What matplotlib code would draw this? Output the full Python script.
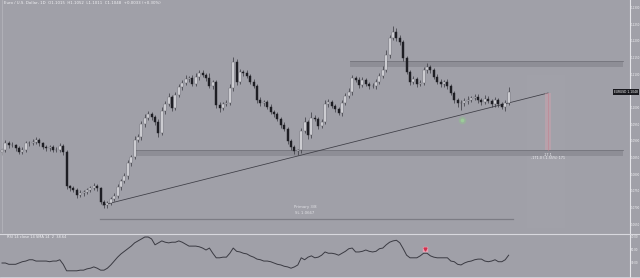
import matplotlib
matplotlib.use("Agg")
import matplotlib.pyplot as plt
import numpy as np
from matplotlib.lines import Line2D

# price in pips (1.xxxx * 10000), one entry per daily candle
closes = [10874, 10895, 10889, 10889, 10880, 10868, 10874, 10895, 10895, 10898,
          10904, 10895, 10883, 10880, 10883, 10874, 10874, 10886, 10868, 10766,
          10760, 10754, 10739, 10745, 10748, 10754, 10760, 10766, 10760, 10718,
          10709, 10715, 10727, 10736, 10763, 10781, 10796, 10835, 10853, 10904,
          10913, 10952, 10970, 10982, 10973, 10958, 10925, 10991, 11012, 11033,
          11000, 11039, 11063, 11075, 11087, 11090, 11072, 11093, 11105, 11099,
          11090, 11066, 11078, 11009, 11000, 11012, 11015, 11060, 11138, 11078,
          11108, 11105, 11096, 11078, 11066, 11024, 11015, 11018, 11003, 10988,
          10982, 10967, 10949, 10937, 10901, 10883, 10871, 10874, 10931, 10958,
          10919, 10970, 10967, 10946, 10958, 11012, 11018, 11006, 10997, 10985,
          11015, 11036, 11048, 11090, 11084, 11069, 11084, 11072, 11066, 11066,
          11078, 11096, 11114, 11159, 11210, 11228, 11210, 11198, 11150, 11108,
          11078, 11087, 11072, 11075, 11114, 11123, 11114, 11093, 11078, 11072,
          11078, 11066, 11045, 11024, 11015, 11015, 11021, 11024, 11030, 11033,
          11024, 11018, 11027, 11021, 11012, 11024, 11012, 11003, 11015, 11048]
first_open = 10868

upper_wick = [6, 9, 5, 8, 4, 6, 9, 7, 5, 8, 10, 6, 4, 7, 5, 6, 8, 9, 5, 6,
              4, 6, 5, 8, 7, 6, 5, 9, 6, 4, 5, 7, 6, 9, 8, 6, 9, 10, 7, 12,
              9, 8, 12, 10, 7, 6, 9, 11, 8, 12, 6, 10, 9, 8, 11, 7, 9, 12, 8, 10,
              6, 14, 5, 6, 8, 7, 9, 12, 15, 8, 10, 7, 9, 6, 8, 5, 9, 7, 6, 8,
              5, 7, 6, 8, 5, 7, 6, 4, 9, 15, 6, 18, 10, 7, 9, 12, 8, 6, 5, 7,
              9, 8, 12, 10, 6, 8, 9, 7, 6, 8, 10, 9, 12, 15, 10, 18, 12, 8, 6, 5,
              7, 9, 6, 8, 10, 12, 7, 6, 8, 9, 6, 10, 7, 6, 5, 8, 9, 12, 7, 10,
              9, 6, 12, 8, 7, 9, 6, 5, 8, 14]
lower_wick = [8, 5, 9, 6, 10, 7, 5, 6, 8, 5, 7, 9, 6, 8, 10, 7, 5, 6, 9, 8,
              10, 7, 9, 6, 8, 5, 7, 6, 9, 6, 9, 8, 6, 5, 7, 9, 6, 8, 10, 6,
              7, 9, 8, 6, 10, 9, 12, 6, 8, 5, 9, 7, 6, 8, 5, 9, 6, 7, 8, 6,
              9, 5, 10, 8, 12, 7, 6, 5, 8, 9, 6, 8, 5, 7, 6, 9, 8, 10, 7, 6,
              8, 6, 9, 7, 10, 8, 9, 12, 9, 6, 12, 8, 7, 9, 6, 5, 8, 7, 9, 6,
              8, 5, 6, 9, 7, 8, 6, 5, 9, 7, 8, 6, 5, 6, 8, 7, 9, 10, 8, 6,
              9, 7, 8, 6, 5, 9, 8, 7, 6, 9, 8, 10, 7, 9, 12, 21, 9, 8, 7, 6,
              8, 9, 7, 6, 10, 8, 9, 7, 12, 6]

rsi = [30, 30, 28, 28, 28, 30, 32, 33, 35, 35, 33, 33, 33, 33, 32, 33, 33, 35, 28, 18,
       18, 18, 18, 19, 19, 21, 22, 24, 22, 19, 19, 22, 27, 33, 39, 44, 48, 52, 56, 61,
       64, 67, 70, 70, 67, 58, 61, 64, 62, 61, 62, 62, 64, 62, 59, 56, 56, 56, 55, 53,
       50, 53, 45, 38, 38, 39, 39, 45, 53, 48, 47, 45, 44, 41, 39, 36, 35, 33, 33, 32,
       30, 28, 27, 25, 24, 22, 24, 27, 38, 35, 39, 41, 38, 39, 42, 47, 45, 45, 44, 42,
       45, 48, 52, 53, 47, 47, 48, 50, 48, 47, 48, 52, 53, 58, 62, 64, 65, 61, 52, 42,
       38, 38, 38, 41, 45, 45, 41, 39, 38, 38, 38, 38, 33, 32, 28, 27, 30, 32, 33, 35,
       36, 36, 33, 32, 33, 35, 32, 32, 35, 42]

# 1.1050 sits under the last-price tag, so it is not listed
price_ticks = [1.1300, 1.1250, 1.1200, 1.1150, 1.1100, 1.1000, 1.0950,
               1.0900, 1.0850, 1.0800, 1.0750, 1.0700, 1.0650]
rsi_ticks = [70, 50, 30]

resistance_zone = (1.1123, 1.1141)
support_zone = (1.0856, 1.0874)
trend_start = (29.7, 1.0709)
trend_end = (160.6, 1.1045)
target_low = 1.0874
sl_level = 1.0667

BG = "#a0a0a8"
BULL = "#ebebef"
BEAR = "#1e1e24"
WICK = "#38383f"
TXT = "#f2f2f5"

W, H = 640, 278

c = np.array(closes) / 10000
o = np.concatenate([[first_open / 10000], c[:-1]])
hi = np.maximum(o, c) + np.array(upper_wick) / 10000
lo = np.minimum(o, c) - np.array(lower_wick) / 10000
idx = np.arange(len(c))

fig = plt.figure(figsize=(W / 100, H / 100), dpi=100)
fig.patch.set_facecolor(BG)

ax = fig.add_axes([0, 45 / H, 629 / W, 233 / H])
ax.set_facecolor(BG)
ax.set_xlim(-0.59, 184.4)
ax.set_ylim(1.0625, 1.1324)
ax.axis("off")

# very faint highlight where the projection sits
ax.fill_between([154.5, 165.5], 1.0640, 1.1100, color="white", alpha=0.02, lw=0, zorder=0)

# zones
for lo_z, hi_z, x0 in [(resistance_zone[0], resistance_zone[1], 102.4),
                       (support_zone[0], support_zone[1], 39.1)]:
    ax.fill_between([x0, 182.6], lo_z, hi_z, color="#82828a", alpha=0.6, lw=0, zorder=1)
    ax.plot([x0, 182.6], [hi_z, hi_z], color="#74747c", lw=0.6, zorder=1)

# stop line + labels
ax.plot([28.8, 150.3], [sl_level, sl_level], color="#7c7c84", lw=0.9, zorder=1)
ax.text(89.1, 1.0703, "Primary 3/8", fontsize=2.8, color=TXT, ha="center", va="center", alpha=0.8)
ax.text(89.1, 1.0685, "SL 1.0667", fontsize=2.8, color=TXT, ha="center", va="center", alpha=0.8)

# trendline
ax.plot([trend_start[0], trend_end[0]], [trend_start[1], trend_end[1]],
        color="#3c3c44", lw=0.55, zorder=2)

# projected drop
ax.fill_between([159.7, 161.5], target_low, trend_end[1], color="#d4a2ae", alpha=0.45, lw=0, zorder=2)
ax.plot([160.6, 160.6], [target_low, trend_end[1]], color="#c0808e", lw=0.5, alpha=0.8, zorder=2)
ax.text(160.6, 1.0860, "-17.1", fontsize=2.4, color=TXT, ha="center", va="center")
ax.text(160.6, 1.0851, "-171.0 (-1.55%) 171", fontsize=2.4, color=TXT, ha="center", va="center")

# candles
bull = c >= o
ax.vlines(idx, lo, hi, color=WICK, lw=0.5, zorder=3)
body = np.maximum(np.abs(c - o), 0.00015)
ax.bar(idx[bull], body[bull], bottom=o[bull], width=0.6, color=BULL,
       edgecolor="#5a5a61", linewidth=0.3, zorder=4)
ax.bar(idx[~bull], body[~bull], bottom=c[~bull], width=0.6, color=BEAR,
       edgecolor=BEAR, linewidth=0.3, zorder=4)

# touch marker
ax.scatter([135.3], [1.0964], s=30, color="#86d880", alpha=0.3, lw=0, zorder=5)
ax.scatter([135.3], [1.0964], s=7, color="#9fe898", alpha=0.5, lw=0, zorder=5)

# RSI pane
rx = fig.add_axes([0, 2 / H, 629 / W, 41 / H])
rx.set_facecolor(BG)
rx.set_xlim(-0.59, 184.4)
rx.set_ylim(10.0, 73.1)
rx.axis("off")
rx.plot(idx, rsi, color="#3a3a42", lw=0.7)
rx.scatter([124.4], [52], marker="s", s=10, color="#e6a2b4", zorder=5)
rx.scatter([124.4], [52], marker="v", s=4, color="#d0304c", zorder=6)
rx.text(1.5, 70, "RSI 14 close 14 SMA 14  2  38.64", fontsize=2.6, color=TXT, va="center")

# separators
fig.add_artist(Line2D([629.5 / W, 629.5 / W], [0, 1], color="#e6e6ea", lw=0.8))
fig.add_artist(Line2D([0, 1], [1 - 234 / H, 1 - 234 / H], color="#d8d8de", lw=0.8))
fig.add_artist(Line2D([0, 1], [1 - 276.5 / H, 1 - 276.5 / H], color="#d8d8de", lw=0.6))
fig.add_artist(Line2D([1.5 / W, 1.5 / W], [1 - 232 / H, 1], color="#b8b8be", lw=0.5))

# price scale (narrow strip on the right)
for p in price_ticks:
    ypx = (1.1324 - p) * 10000 / 3
    fig.text(631 / W, 1 - ypx / H, f"{p:.4f}", fontsize=2.0, color=TXT, va="center")
for r in rsi_ticks:
    ypx = 235 + (73.1 - r) / 63.1 * 41
    fig.text(631 / W, 1 - ypx / H, f"{r:.2f}", fontsize=2.0, color=TXT, va="center")

# last price tag
last_px = (1.1324 - c[-1]) * 10000 / 3
fig.text(614 / W, 1 - last_px / H, f"EURUSD {c[-1]:.4f}", fontsize=2.2, color="white", va="center",
         bbox=dict(boxstyle="square,pad=0.3", fc="#1a1a1f", ec="none"))

# header
fig.text(4 / W, 1 - 3 / H, "Euro / U.S. Dollar, 1D  O1.1015  H1.1052  L1.1011  C1.1048  +0.0033 (+0.30%)",
         fontsize=2.8, color=TXT, va="center")

fig.savefig("out.png", dpi=100, facecolor=BG)
